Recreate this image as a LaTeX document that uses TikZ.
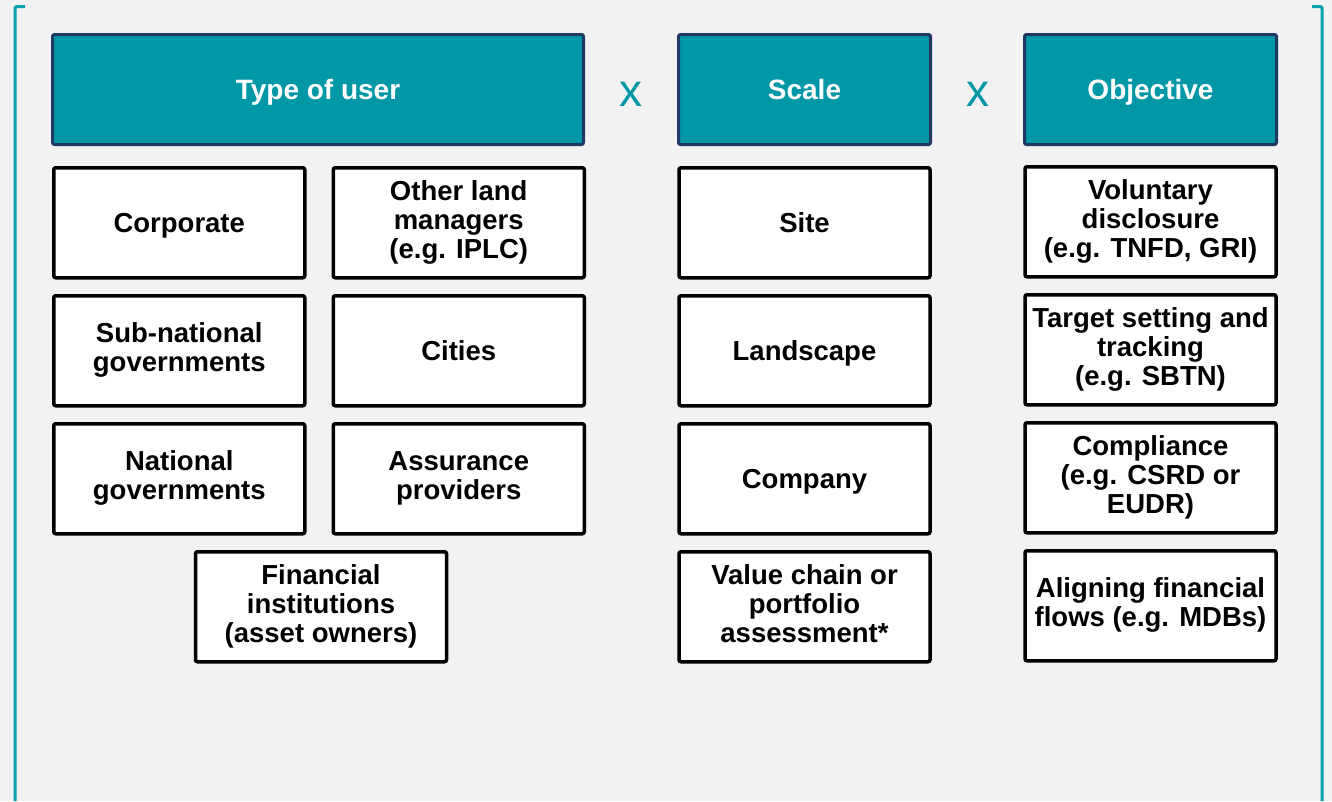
\documentclass[tikz,border=0pt]{standalone}
\usepackage{fontspec}
\setmainfont{Liberation Sans}
\usepackage{xcolor}
\definecolor{tealHead}{RGB}{0,151,167}
\definecolor{navyEdge}{RGB}{31,56,100}
\definecolor{tealLine}{RGB}{0,160,178}
\definecolor{greyBack}{RGB}{242,242,242}
\usepackage{tikz}
\usetikzlibrary{positioning, calc}

\begin{document}
\begin{tikzpicture}[x=1pt, y=-1pt,
  evenlines/.style={execute at begin node={\rule{0pt}{0.96em}},
                    execute at end node={\rule[-0.24em]{0pt}{0.24em}}},
  head/.style={rectangle, draw=navyEdge, line width=3pt, fill=tealHead, rounded corners=2pt,
               text=white, text centered, inner sep=2pt, font=\fontsize{28}{29}\selectfont\bfseries,
               minimum width=252pt, minimum height=110pt, evenlines},
  cell/.style={rectangle, draw=black, line width=3.5pt, fill=white, rounded corners=2pt,
               align=center, inner sep=2pt, font=\fontsize{27.5}{29}\selectfont\bfseries,
               minimum width=251pt, minimum height=110pt, evenlines},
  times/.style={text=tealHead, inner sep=0pt, font=\fontsize{46}{46}\selectfont},
  bracket/.style={draw=tealLine, line width=3pt, rounded corners=1.5pt}
]
  \useasboundingbox (0,0) rectangle (1332,801);
  \fill[greyBack] (0,0) rectangle (1332,801);

  \draw[bracket] (25,6.5) -- (15,6.5) -- (15,801);
  \draw[bracket] (1312,6.5) -- (1322,6.5) -- (1322,801);

  \node[head, minimum width=531pt] (user) at (318,89.5) {Type of user};
  \node[head, right=92pt of user] (scale) {Scale};
  \node[head, right=91pt of scale] (goal) {Objective};

  \node[times, yshift=-5pt] (x1) at ($(user.east)!0.5!(scale.west)$) {x};
  \node[times, yshift=-5pt] (x2) at ($(scale.east)!0.5!(goal.west)$) {x};

  % type of user
  \node[cell, below right=20pt and 1pt of user.south west] (corp) {Corporate};
  \node[cell, right=25pt of corp] (land) {Other land\\managers\\(e.g. IPLC)};
  \node[cell, below=14.5pt of corp] (subnat) {Sub-national\\governments};
  \node[cell, below=14.5pt of land] (cities) {Cities};
  \node[cell, below=14.5pt of subnat] (natl) {National\\governments};
  \node[cell, below=14.5pt of cities] (assur) {Assurance\\providers};
  \coordinate (midlow) at ($(natl.south)!0.5!(assur.south)$);
  \node[cell, below=14.5pt of midlow, xshift=2pt] (fin) {Financial\\institutions\\(asset owners)};

  % scale
  \node[cell, below=20pt of scale] (site) {Site};
  \node[cell, below=14.5pt of site] (landsc) {Landscape};
  \node[cell, below=14.5pt of landsc] (comp) {Company};
  \node[cell, below=14.5pt of comp] (chain) {Value chain or\\portfolio\\assessment*};

  % objective
  \node[cell, below=19pt of goal] (vol) {Voluntary\\disclosure\\(e.g. TNFD, GRI)};
  \node[cell, below=14.5pt of vol] (target) {Target setting and\\tracking\\(e.g. SBTN)};
  \node[cell, below=14.5pt of target] (compl) {Compliance\\(e.g. CSRD or\\EUDR)};
  \node[cell, below=14.5pt of compl] (flows) {Aligning financial\\flows (e.g. MDBs)};
\end{tikzpicture}
\end{document}
